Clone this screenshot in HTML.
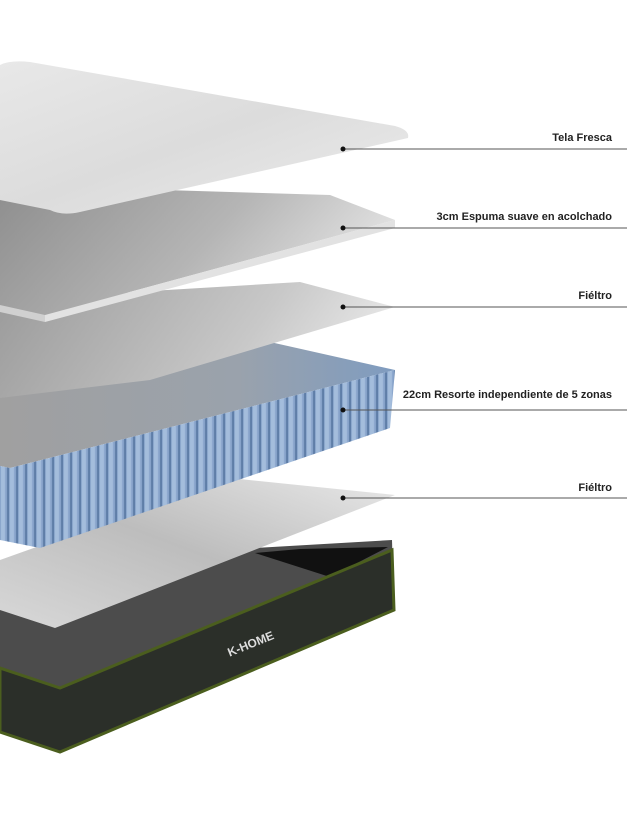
<!DOCTYPE html>
<html><head><meta charset="utf-8"><style>
html,body{margin:0;padding:0;background:#fff;}
svg{display:block;}
text{font-family:"Liberation Sans",sans-serif;font-weight:bold;font-size:11px;fill:#222;}
</style></head><body>
<svg width="639" height="826" viewBox="0 0 639 826" xmlns="http://www.w3.org/2000/svg">
<defs>
<linearGradient id="g2" x1="0" y1="0" x2="1" y2="0.3"><stop offset="0" stop-color="#8e8e8e"/><stop offset="0.6" stop-color="#b5b5b5"/><stop offset="1" stop-color="#e0e0e0"/></linearGradient>
<linearGradient id="g3" x1="0" y1="0" x2="1" y2="0.2"><stop offset="0" stop-color="#9a9a9a"/><stop offset="0.7" stop-color="#c8c8c8"/><stop offset="1" stop-color="#e5e5e5"/></linearGradient>
<linearGradient id="g5" x1="0" y1="1" x2="1" y2="0"><stop offset="0" stop-color="#d8d8d8"/><stop offset="0.5" stop-color="#bdbdbd"/><stop offset="1" stop-color="#e8e8e8"/></linearGradient>
<linearGradient id="gs" x1="0" y1="0" x2="1" y2="0"><stop offset="0" stop-color="#a0a0a0"/><stop offset="0.6" stop-color="#9aa2ac"/><stop offset="1" stop-color="#7f9cc0"/></linearGradient>
<linearGradient id="gc" x1="0" y1="0" x2="1" y2="1"><stop offset="0" stop-color="#e8e8e8"/><stop offset="0.5" stop-color="#dcdcdc"/><stop offset="1" stop-color="#ececec"/></linearGradient>
<pattern id="cyl" width="9" height="200" patternUnits="userSpaceOnUse" patternTransform="skewY(-14)">
<rect width="9" height="200" fill="#8aa6cc"/><rect x="1" width="4" height="200" fill="#a4bddc"/><rect x="7" width="2" height="200" fill="#5f7ea8"/>
</pattern>
</defs>
<!-- base -->
<polygon points="0,600 255,548 392,540 394,610 60,752 0,732" fill="#4c4c4c"/>
<polygon points="255,553 300,549 388,547 330,577" fill="#111"/>
<polygon points="0,668 60,688 392,550 394,610 60,752 0,732" fill="#2b2f29" stroke="#4b5e1e" stroke-width="3"/>
<text x="226" y="652" transform="rotate(-22 240 645)" style="fill:#ddd;font-size:12px;">K-HOME</text>
<!-- felt 5 -->
<polygon points="0,560 230,478 395,495 55,628 0,610" fill="url(#g5)"/>
<!-- springs -->
<polygon points="0,395 270,342 395,370 10,468 0,466" fill="url(#gs)"/>
<polygon points="10,468 395,370 390,428 40,548 0,540 0,466" fill="url(#cyl)"/>
<!-- felt 3 -->
<polygon points="0,300 300,282 395,307 150,380 0,398" fill="url(#g3)"/>
<!-- foam 2 -->
<polygon points="0,185 330,195 395,220 45,315 0,305" fill="url(#g2)"/>
<polygon points="45,315 395,220 395,228 45,322" fill="#e2e2e2"/>
<polygon points="0,305 45,315 45,322 0,312" fill="#d0d0d0"/>
<!-- top cover -->
<path d="M0,65 Q10,60 30,62 L395,126 Q410,130 408,138 L80,212 Q62,216 50,210 L0,200 Z" fill="url(#gc)"/>
<!-- labels -->
<g stroke="#555" stroke-width="1">
<line x1="343" y1="149" x2="627" y2="149"/><line x1="343" y1="228" x2="627" y2="228"/>
<line x1="343" y1="307" x2="627" y2="307"/><line x1="343" y1="410" x2="627" y2="410"/>
<line x1="343" y1="498" x2="627" y2="498"/>
</g>
<g fill="#111"><circle cx="343" cy="149" r="2.5"/><circle cx="343" cy="228" r="2.5"/><circle cx="343" cy="307" r="2.5"/><circle cx="343" cy="410" r="2.5"/><circle cx="343" cy="498" r="2.5"/></g>
<g text-anchor="end">
<text x="612" y="141">Tela Fresca</text>
<text x="612" y="220">3cm Espuma suave en acolchado</text>
<text x="612" y="299">Fiéltro</text>
<text x="612" y="398">22cm Resorte independiente de 5 zonas</text>
<text x="612" y="491">Fiéltro</text>
</g>
</svg>
</body></html>
